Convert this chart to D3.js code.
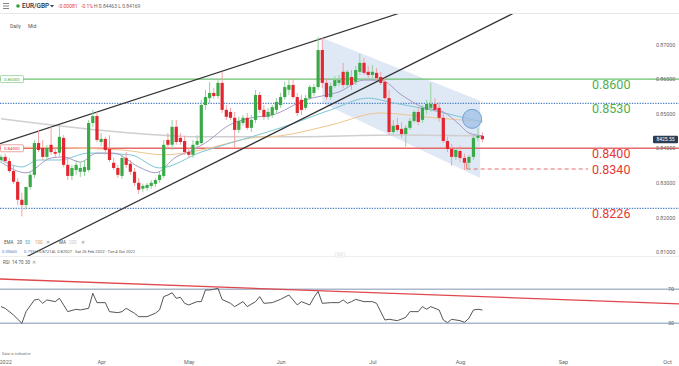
<!DOCTYPE html>
<html><head><meta charset="utf-8">
<script src="https://cdn.jsdelivr.net/npm/d3@7"></script>
<style>body{margin:0;background:#fff;} svg{display:block;font-family:Roboto,"Open Sans",sans-serif;}</style>
</head><body><svg id="c" width="679" height="366"></svg>
<script>
// ---------- DATA ----------
const tickLabels = ["2022","Apr","May","Jun","Jul","Aug","Sep","Oct"];
const tickIdx    = [1,24,45,67,89,110,133,155];
const priceTicks = [0.81,0.82,0.83,0.84,0.85,0.86,0.87];

const openP = [.8366,.8375,.8363,.8334,.8303,.8251,.8236,.8288,.8323,.8415,.8401,.8375,.8410,.8389,.8387,.8430,.8352,.8320,.8337,.8332,
.8332,.8337,.8473,.8493,.8418,.8427,.8398,.8358,.8343,.8320,.8372,.8355,.8332,.8300,.8283,.8285,.8291,.8297,.8308,.8320,
.8424,.8410,.8462,.8430,.8421,.8389,.8381,.8410,.8415,.8525,.8545,.8560,.8551,.8589,.8511,.8505,.8488,.8453,.8473,.8488,
.8459,.8482,.8554,.8511,.8491,.8496,.8511,.8525,.8548,.8569,.8583,.8548,.8540,.8517,.8545,.8560,.8577,.8684,.8589,.8548,
.8580,.8589,.8621,.8583,.8606,.8592,.8621,.8647,.8621,.8612,.8618,.8606,.8592,.8545,.8447,.8467,.8456,.8441,.8459,.8479,
.8505,.8482,.8511,.8517,.8528,.8517,.8488,.8421,.8398,.8375,.8392,.8372,.8358,.8375,.8430,.8436];
const highP = [.8381,.8384,.8372,.8349,.8314,.8271,.8242,.8332,.8424,.8453,.8424,.8410,.8462,.8404,.8462,.8438,.8375,.8352,.8366,.8360,
.8366,.8482,.8511,.8505,.8444,.8433,.8438,.8372,.8352,.8381,.8389,.8366,.8343,.8314,.8297,.8300,.8308,.8314,.8332,.8424,
.8444,.8482,.8482,.8444,.8436,.8401,.8424,.8438,.8540,.8569,.8592,.8574,.8597,.8621,.8525,.8517,.8505,.8491,.8496,.8502,
.8496,.8569,.8563,.8525,.8517,.8525,.8545,.8560,.8592,.8597,.8603,.8560,.8554,.8554,.8583,.8586,.8721,.8719,.8603,.8589,
.8609,.8612,.8647,.8626,.8626,.8638,.8673,.8661,.8638,.8641,.8632,.8621,.8603,.8569,.8482,.8488,.8476,.8467,.8488,.8511,
.8517,.8525,.8540,.8589,.8545,.8534,.8505,.8433,.8412,.8401,.8407,.8384,.8381,.8438,.8459,.8446];
const lowP = [.8358,.8358,.8329,.8297,.8236,.8203,.8222,.8280,.8314,.8389,.8366,.8366,.8381,.8375,.8378,.8346,.8308,.8308,.8323,.8317,
.8320,.8332,.8462,.8418,.8407,.8381,.8360,.8337,.8314,.8311,.8343,.8323,.8291,.8268,.8274,.8277,.8283,.8288,.8300,.8314,
.8401,.8395,.8410,.8410,.8381,.8372,.8372,.8401,.8410,.8511,.8531,.8543,.8543,.8502,.8482,.8482,.8401,.8444,.8465,.8453,
.8447,.8473,.8502,.8482,.8482,.8488,.8502,.8517,.8540,.8554,.8543,.8493,.8496,.8511,.8540,.8551,.8569,.8574,.8540,.8540,
.8574,.8580,.8574,.8574,.8569,.8583,.8612,.8612,.8603,.8603,.8597,.8583,.8540,.8438,.8441,.8447,.8430,.8404,.8453,.8473,
.8467,.8473,.8499,.8505,.8505,.8476,.8415,.8389,.8349,.8366,.8360,.8337,.8337,.8366,.8421,.8417];
const closeP = [.8375,.8363,.8334,.8303,.8251,.8236,.8288,.8323,.8415,.8395,.8375,.8401,.8389,.8384,.8433,.8352,.8320,.8343,.8352,.8343,
.8346,.8473,.8493,.8424,.8427,.8395,.8366,.8343,.8323,.8372,.8352,.8332,.8300,.8280,.8291,.8294,.8300,.8308,.8323,.8410,
.8410,.8462,.8418,.8418,.8389,.8381,.8410,.8421,.8525,.8548,.8560,.8551,.8589,.8511,.8491,.8488,.8453,.8479,.8488,.8459,
.8482,.8554,.8511,.8491,.8505,.8519,.8534,.8548,.8577,.8583,.8548,.8502,.8511,.8545,.8577,.8577,.8684,.8589,.8548,.8580,
.8597,.8597,.8583,.8621,.8583,.8626,.8647,.8618,.8612,.8621,.8603,.8589,.8545,.8447,.8465,.8453,.8441,.8459,.8479,.8505,
.8476,.8517,.8528,.8528,.8511,.8488,.8421,.8398,.8375,.8395,.8372,.8358,.8375,.8430,.8436,.8426];

const ema20  = [[0,.8360],[6,.8329],[12,.8372],[15,.8375],[19,.8360],[23,.8386],[27,.8386],[33,.8346],[37,.8329],[42,.8375],[46,.8395],[50,.8424],[54,.8462],[60,.8488],[65,.8496],[73,.8540],[81,.8563],[87,.8597],[91,.8597],[96,.8554],[101,.8519],[106,.8505],[110,.8467],[112,.8444],[115,.8436]];
const ema50  = [[0,.8366],[5,.8346],[9,.8366],[14,.8366],[21,.8386],[31,.8381],[38,.8343],[48,.8389],[60,.8433],[67,.8459],[79,.8511],[88,.8545],[94,.8531],[103,.8511],[110,.8491],[115,.8476]];
const ema100 = [[0,.8404],[14,.8401],[29,.8395],[39,.8381],[48,.8395],[60,.8430],[67,.8436],[79,.8467],[91,.8502],[102,.8490],[110,.8482],[115,.8478]];
const ma200  = [[0,.8485],[31,.8444],[48,.8433],[67,.8433],[96,.8438],[115,.8436]];

const rsi = [[0,49.6],[1,47.6],[3,39.8],[5,30],[6,43.7],[8,57.5],[9,58.2],[10,53.5],[11,57.5],[13,55.5],[14,59.4],[15,51.6],[16,43.7],[18,46.5],[19,45.7],[21,47.6],[22,65.3],[23,54.3],[25,54.3],[26,43.7],[28,42.5],[29,43.7],[30,47.6],[32,41.8],[33,37.8],[35,37.8],[37,41.8],[38,45.7],[39,61.4],[40,63.3],[41,66],[42,59.4],[43,60.6],[44,53.5],[45,51.6],[47,55.5],[48,55.5],[49,69.2],[50,69.2],[51,70],[52,71.2],[53,58],[55,53.5],[56,49.6],[58,55.5],[59,49.6],[61,55.5],[62,61.4],[63,53.5],[65,54.3],[67,58.2],[69,63.3],[70,57.5],[71,51.6],[72,55.5],[74,51.6],[75,60.6],[76,67.5],[77,53.5],[79,54.3],[81,54.3],[82,57.5],[83,53.5],[84,55.5],[85,58.2],[87,55.5],[89,55.5],[90,53.5],[92,33.9],[93,34.7],[95,33.1],[97,37],[98,43.7],[100,43.7],[101,49.6],[102,46.5],[103,49.6],[105,45.7],[106,33.9],[107,30.8],[108,34.7],[110,33.1],[111,31.2],[112,35.9],[113,45.7],[114,46.5],[115,45.7]];
const rsiLevels = [70,30];
const rsiTrend = [[0,82.1],[155,53.3]];

const levelPrices = [0.86,0.853,0.84,0.834,0.8226];
const levelLabels = ["0.8600","0.8530","0.8400","0.8340","0.8226"];
const upperTrend = [[0,.8414],[90,.8769]];
const lowerTrend = [[20,.8170],[110,.8713]];
const channelIdx = [77,114.5];
const channelTop = [.8719,.8537];
const channelBottom = [.8531,.8314];
const circleAt = [112.7,.8485];
const lastPrice = "8425.55";

// ---------- SCALES ----------
const svg = d3.select("#c");
const W=679;
const x = d3.scaleLinear().domain([0,110,133,155]).range([1,460,563,667]);
const y = d3.scaleLinear().domain([0.81,0.87]).range([252,44.5]);
const yr = d3.scaleLinear().domain([30,70]).range([323.3,289.3]);
const GREEN="#3aaa48", RED="#e3262f";

// header
svg.append("line").attr("x1",0).attr("x2",W).attr("y1",13.5).attr("y2",13.5).attr("stroke","#e8e8e8");
[3.5,6,8.5].forEach(v=>svg.append("line").attr("x1",3).attr("x2",9).attr("y1",v).attr("y2",v).attr("stroke","#666").attr("stroke-width",0.8));
svg.append("circle").attr("cx",18).attr("cy",6).attr("r",1.8).attr("fill","#2ea043");
const ht = (t,xx,yy,fs,fill,fw)=>svg.append("text").attr("x",xx).attr("y",yy).attr("font-size",fs).attr("fill",fill).attr("font-weight",fw||400).text(t);
ht("EUR/GBP",22,8.3,6.5,"#1f2d3d",500);
svg.append("path").attr("d","M50,5 L54,5 L52,7.5Z").attr("fill","#444");
ht("-0.00081",58,8.1,5,"#e53935");
ht("-0.1%",81,8.1,5,"#e53935");
ht("H 0.84463  L 0.84169",94,8.1,5,"#666");
ht("Daily",10,28,5,"#555");
ht("Mid",28,28,5,"#555");

// main panel clip
svg.append("defs").append("clipPath").attr("id","mc").append("rect").attr("x",0).attr("y",14).attr("width",W).attr("height",243);
const g = svg.append("g").attr("clip-path","url(#mc)");

// channel shading
const poly = [[channelIdx[0],channelTop[0]],[channelIdx[1],channelTop[1]],[channelIdx[1],channelBottom[1]],[channelIdx[0],channelBottom[0]]];
g.append("path").attr("d","M"+poly.map(p=>[x(p[0]),y(p[1])].join(",")).join("L")+"Z").attr("fill","#c9d9ee").attr("opacity",0.6);

// level lines
const lvlStyle = [
 {c:"#6cc070",w:1.2,dash:null,from:0},
 {c:"#4a80c8",w:1.3,dash:"1.3,1.3",from:0},
 {c:"#e66a6a",w:1.4,dash:null,from:0},
 {c:"#e66a6a",w:1,dash:"4,3",from:111.5},
 {c:"#4a80c8",w:1.3,dash:"1.3,1.3",from:0}];
levelPrices.forEach((p,i)=>{
  const s=lvlStyle[i];
  g.append("line").attr("x1",s.from?x(s.from):0).attr("x2",i===3?588:W).attr("y1",y(p)).attr("y2",y(p))
   .attr("stroke",s.c).attr("stroke-width",s.w).attr("stroke-dasharray",s.dash);
});
g.append("line").attr("x1",x(111.5)).attr("x2",x(111.5)).attr("y1",y(0.8358)).attr("y2",y(0.834)).attr("stroke","#e66a6a").attr("stroke-width",1);

// moving averages
const ln = d3.line().x(d=>x(d[0])).y(d=>y(d[1])).curve(d3.curveMonotoneX);
[[ma200,"#cfcfcf",1.5],[ema100,"#efc58c",1],[ema50,"#7cc6d8",1],[ema20,"#a59bc6",1]].forEach(([d,c,w])=>
  g.append("path").attr("d",ln(d)).attr("fill","none").attr("stroke",c).attr("stroke-width",w));

// trend lines (extended)
function ext(a,b,sx,sy){const x1=sx(a[0]),y1=sy(a[1]),x2=sx(b[0]),y2=sy(b[1]);const m=(y2-y1)/(x2-x1);return [[0,y1-m*x1],[W,y1+m*(W-x1)]];}
[upperTrend,lowerTrend].forEach(t=>{const e=ext(t[0],t[1],x,y);
  g.append("line").attr("x1",e[0][0]).attr("y1",e[0][1]).attr("x2",e[1][0]).attr("y2",e[1][1]).attr("stroke","#333").attr("stroke-width",1.2);});

// candles
const candles = closeP.map((c,i)=>({i,o:openP[i],h:highP[i],l:lowP[i],c}));
g.selectAll(".wk").data(candles).join("line").attr("x1",d=>x(d.i)).attr("x2",d=>x(d.i))
 .attr("y1",d=>y(d.h)).attr("y2",d=>y(d.l)).attr("stroke",d=>d.c>=d.o?"#92d39c":"#f3a0a5").attr("stroke-width",1);
g.selectAll(".bd").data(candles).join("rect").attr("x",d=>x(d.i)-1.6).attr("width",3.2)
 .attr("y",d=>y(Math.max(d.o,d.c))).attr("height",d=>Math.max(1,Math.abs(y(d.o)-y(d.c))))
 .attr("fill",d=>d.c>=d.o?GREEN:RED);

// circle annotation
g.append("circle").attr("cx",x(circleAt[0])).attr("cy",y(circleAt[1])).attr("r",9.5)
 .attr("fill","#9fc0e6").attr("fill-opacity",0.75).attr("stroke","#6d9fd6").attr("stroke-width",1);

// level labels
const lblCol=["#4caf50","#4caf50","#e53935","#e53935","#e53935"];
levelPrices.forEach((p,i)=>{
  svg.append("text").attr("x",592).attr("y",y(p)+(i===3?4.5:10)).attr("font-size",12.5).attr("fill",lblCol[i]).text(levelLabels[i]);
});
// left small boxes
[[0.86,"0.86000","#6cc070","#4caf50"],[0.84,"0.84000","#e66a6a","#e53935"]].forEach(([p,t,bc,tc])=>{
  svg.append("rect").attr("x",0.5).attr("y",y(p)-3.5).attr("width",23).attr("height",7).attr("fill","#fff").attr("stroke",bc).attr("stroke-width",0.6).attr("rx",1);
  svg.append("text").attr("x",4).attr("y",y(p)+1.6).attr("font-size",4.3).attr("fill",tc).text(t);
});

// right price axis
const ay = svg.append("g").attr("transform","translate(653,0)")
  .call(d3.axisRight(y).tickValues(priceTicks).tickFormat(d3.format(".5f")).tickSize(0).tickPadding(3));
ay.select(".domain").remove();
ay.selectAll("text").attr("font-size",5.3).attr("fill","#666").attr("font-family","Roboto,sans-serif");
// last price tag
svg.append("rect").attr("x",653).attr("y",y(0.84255)-3.8).attr("width",25).attr("height",7.6).attr("rx",1).attr("fill","#2c3e55");
svg.append("text").attr("x",665.5).attr("y",y(0.84255)+1.8).attr("text-anchor","middle").attr("font-size",5).attr("fill","#fff").text(lastPrice);

// legend rows
const lg=(t,xx,yy,c,fs)=>svg.append("text").attr("x",xx).attr("y",yy).attr("font-size",fs||4.5).attr("fill",c).text(t);
lg("EMA",4,244,"#555");lg("20",17,244,"#555");lg("50",25,244,"#4aa8c8");lg("100",35,244,"#e0a040");lg("✕",46,244,"#888");
lg("MA",59,244,"#555");lg("200",69,244,"#c8c8c8");lg("✕",81,244,"#888");
lg("0.00660",2,252.5,"#4a80c8",4.1);lg("0.79%",24,252.5,"#4a80c8",4.1);lg("H 0.87214",35,252.5,"#555",4.1);lg("L 0.82027",54,252.5,"#555",4.1);
lg("Sat 26 Feb 2022 - Tue 4 Oct 2022",75,252.5,"#555",4.1);

// panel separator + handle
svg.append("line").attr("x1",0).attr("x2",W).attr("y1",256.5).attr("y2",256.5).attr("stroke","#eeeeee");
svg.append("rect").attr("x",335).attr("y",253).attr("width",10).attr("height",4).attr("rx",1).attr("fill","#fff").attr("stroke","#ccc").attr("stroke-width",0.5);
svg.append("line").attr("x1",337).attr("x2",343).attr("y1",255).attr("y2",255).attr("stroke","#bbb").attr("stroke-width",0.5);

// RSI panel
lg("RSI",3,263.5,"#555");lg("14",12,263.5,"#555");lg("70",18.5,263.5,"#555");lg("30",25,263.5,"#555");lg("✕",31.5,263.5,"#888");
rsiLevels.forEach(v=>{
  svg.append("line").attr("x1",0).attr("x2",W).attr("y1",yr(v)).attr("y2",yr(v)).attr("stroke","#aab8cc").attr("stroke-width",1.5);
  svg.append("text").attr("x",674).attr("y",yr(v)+2).attr("text-anchor","end").attr("font-size",5.3).attr("fill","#666").text(v);
});
{const e=ext(rsiTrend[0],rsiTrend[1],x,yr);
 svg.append("line").attr("x1",e[0][0]).attr("y1",e[0][1]).attr("x2",e[1][0]).attr("y2",e[1][1]).attr("stroke","#e0474c").attr("stroke-width",1.3);}
svg.append("path").attr("d",d3.line().x(d=>x(d[0])).y(d=>yr(d[1]))(rsi)).attr("fill","none").attr("stroke","#555").attr("stroke-width",1);

// bottom
svg.append("text").attr("x",2).attr("y",355).attr("font-size",3.8).attr("fill","#777").text("Data is indicative");
const ax = svg.append("g").attr("transform","translate(0,357)")
  .call(d3.axisBottom(x).tickValues(tickIdx).tickFormat((d,i)=>tickLabels[i]).tickSize(0).tickPadding(3));
ax.select(".domain").remove();
ax.selectAll("text").attr("font-size",5.5).attr("fill","#666").attr("font-family","Roboto,sans-serif");
</script></body></html>
